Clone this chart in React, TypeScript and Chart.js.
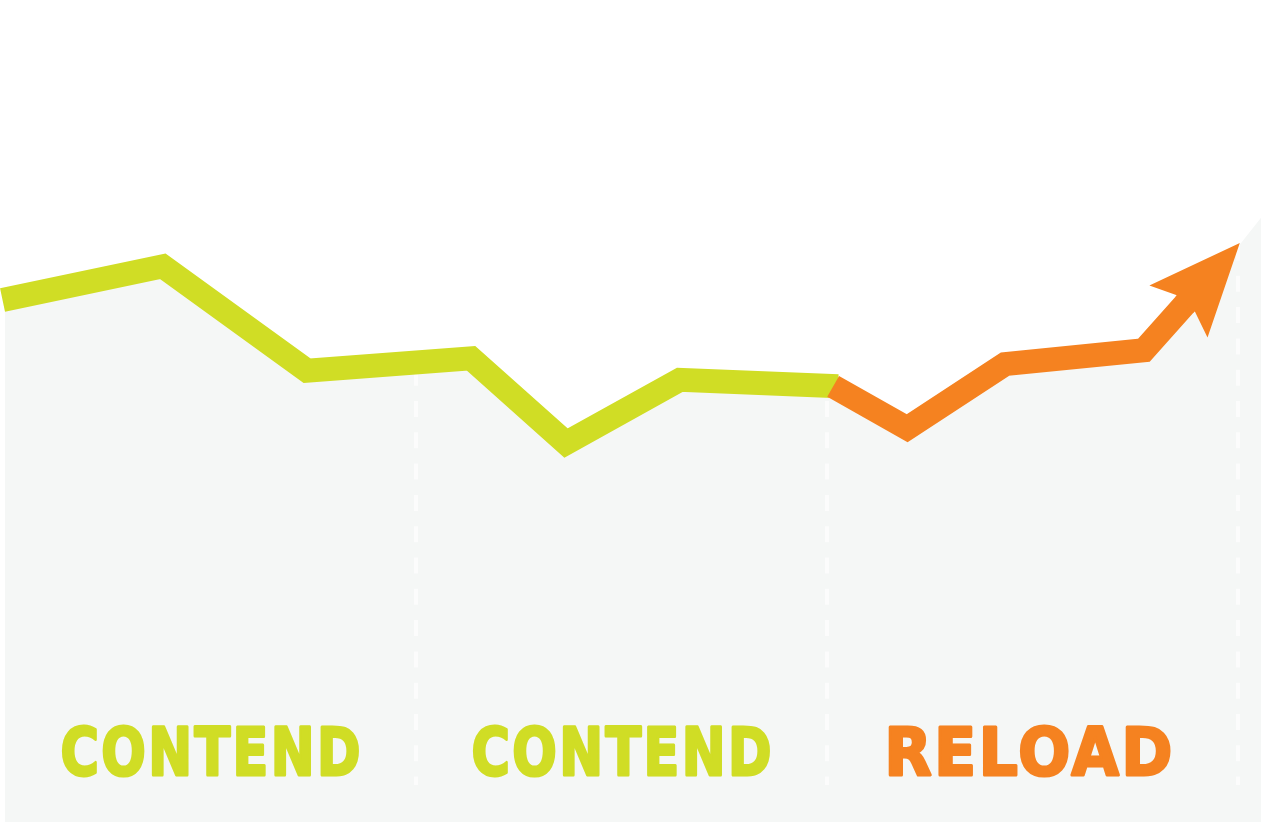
import { useEffect, useRef } from 'react';
import { Chart, registerables } from 'chart.js';

Chart.register(...registerables);

// x in "phase" units (0-3: contend, contend, reload); y in a 0-100 performance scale
const contendX = [-0.006, 0.384, 0.735, 1.134, 1.365, 1.642, 2.027];
const contendY = [63.5, 67.6, 54.9, 56.4, 46.1, 53.8, 53.0];
const reloadX = [2.015, 2.195, 2.433, 2.771, 2.873];
const reloadY = [53.0, 47.9, 55.7, 57.4, 63.1];
const areaX = [-0.006, 0.384, 0.735, 1.134, 1.365, 1.642, 2.015, 2.195, 2.433, 2.771, 3.007, 3.056];
const areaY = [63.5, 67.6, 54.9, 56.4, 46.1, 53.8, 53.0, 47.9, 55.7, 57.4, 70.4, 73.5];
const phaseBounds = [1, 2, 3];
const phaseLabels = ['CONTEND', 'CONTEND', 'RELOAD'];
const phaseCenters = [0.5, 1.5, 2.49];
const gridBottom = 4.5;
const labelBaseline = 5.6;

const GREEN = '#d0dd25';
const ORANGE = '#f58220';
const GRAY = '#f5f7f6';
const labelColors = [GREEN, GREEN, ORANGE];
const labelWidths = [300, 300, 288];
const LINE_W = 24;
const SPACING = 3;

const toPts = (xs: number[], ys: number[]) => xs.map((x, i) => ({ x, y: ys[i] }));

const phaseGrid = {
  id: 'phaseGrid',
  beforeDatasetDraw(chart: any, args: any) {
    if (args.index !== 1) return;
    const { ctx, chartArea, scales } = chart;
    ctx.save();
    ctx.strokeStyle = 'rgba(255,255,255,0.65)';
    ctx.lineWidth = 4;
    ctx.setLineDash([16, 15.3]);
    ctx.lineDashOffset = 5.9;
    const yb = scales.y.getPixelForValue(gridBottom);
    for (const b of phaseBounds) {
      const px = scales.x.getPixelForValue(b);
      ctx.beginPath();
      ctx.moveTo(px, chartArea.top);
      ctx.lineTo(px, yb);
      ctx.stroke();
    }
    ctx.restore();
  },
};

const arrowAndLabels = {
  id: 'arrowAndLabels',
  afterDatasetsDraw(chart: any) {
    const { ctx, scales } = chart;
    // arrow head at the end of the reload line
    const pts = chart.getDatasetMeta(2).data;
    const a = pts[pts.length - 2];
    const m = pts[pts.length - 1];
    const len = Math.hypot(m.x - a.x, m.y - a.y);
    const dx = (m.x - a.x) / len;
    const dy = (m.y - a.y) / len;
    const nx = -dy;
    const ny = dx;
    const P = (u: number, v: number) => [m.x + dx * u + nx * v, m.y + dy * u + ny * v];
    const hw = LINE_W / 2;
    const poly = [P(81, 0), P(-11, 39), P(0, hw), P(-2, hw), P(-2, -hw), P(0, -hw), P(-11, -39)];
    ctx.save();
    ctx.fillStyle = ORANGE;
    ctx.beginPath();
    poly.forEach(([px, py], i) => (i ? ctx.lineTo(px, py) : ctx.moveTo(px, py)));
    ctx.closePath();
    ctx.fill();
    ctx.restore();

    // phase labels
    const by = scales.y.getPixelForValue(labelBaseline);
    phaseLabels.forEach((t, i) => {
      ctx.save();
      ctx.font = 'bold 66px "DejaVu Sans"';
      (ctx as any).letterSpacing = SPACING + 'px';
      ctx.fillStyle = labelColors[i];
      ctx.strokeStyle = labelColors[i];
      ctx.lineWidth = 3;
      ctx.lineJoin = 'round';
      ctx.textBaseline = 'alphabetic';
      ctx.textAlign = 'left';
      const w = ctx.measureText(t).width - SPACING;
      const sx = labelWidths[i] / w;
      const cx = scales.x.getPixelForValue(phaseCenters[i]);
      ctx.translate(cx - labelWidths[i] / 2, by - 1);
      ctx.scale(sx, 1);
      ctx.fillText(t, 0, 0);
      ctx.strokeText(t, 0, 0);
      ctx.restore();
    });
  },
};

export default function App() {
  const ref = useRef<HTMLCanvasElement>(null);
  useEffect(() => {
    if (!ref.current) return;
    const chart = new Chart(ref.current, {
      type: 'line',
      data: {
        datasets: [
          {
            label: 'area',
            data: toPts(areaX, areaY),
            borderColor: 'transparent',
            borderWidth: 0,
            backgroundColor: GRAY,
            fill: 'start',
            pointRadius: 0,
            tension: 0,
            order: 3,
          },
          {
            label: 'contend',
            data: toPts(contendX, contendY),
            borderColor: GREEN,
            borderWidth: LINE_W,
            borderJoinStyle: 'miter',
            borderCapStyle: 'butt',
            fill: false,
            pointRadius: 0,
            tension: 0,
            clip: false as any,
            order: 2,
          },
          {
            label: 'reload',
            data: toPts(reloadX, reloadY),
            borderColor: ORANGE,
            borderWidth: LINE_W,
            borderJoinStyle: 'miter',
            borderCapStyle: 'butt',
            fill: false,
            pointRadius: 0,
            tension: 0,
            clip: false as any,
            order: 1,
          },
        ],
      },
      options: {
        animation: false,
        responsive: false,
        layout: { padding: { left: 5, right: 0, top: 0, bottom: 3 } },
        plugins: { legend: { display: false }, tooltip: { enabled: false } },
        scales: {
          x: { type: 'linear', min: 0, max: 3.056, display: false },
          y: { type: 'linear', min: 0, max: 100, display: false },
        },
      },
      plugins: [phaseGrid, arrowAndLabels],
    });
    return () => chart.destroy();
  }, []);
  return (
    <div style={{ position: 'fixed', left: 0, top: 0, width: 1261, height: 825, background: '#fff' }}>
      <canvas ref={ref} width={1261} height={825} style={{ display: 'block' }} />
    </div>
  );
}
